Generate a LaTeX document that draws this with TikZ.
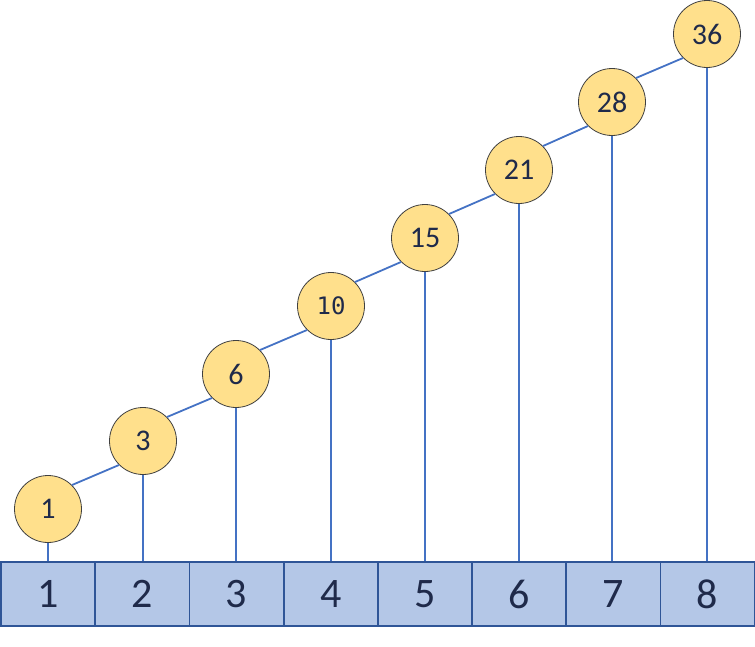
\documentclass[tikz,border=0pt]{standalone}
\usepackage{fontspec}
\setmainfont{Carlito}
\newfontfamily\monof{DejaVu Sans Mono}
\definecolor{cfill}{HTML}{FFE08C}
\definecolor{cdraw}{HTML}{404040}
\definecolor{bfill}{HTML}{B4C7E7}
\definecolor{bdraw}{HTML}{2F5597}
\definecolor{lnk}{HTML}{4472C4}
\definecolor{txt}{HTML}{1F2A4A}
\begin{document}
\begin{tikzpicture}[x=1pt,y=-1pt,
  tri/.style={circle,draw=cdraw,fill=cfill,line width=0.8pt,minimum size=67pt,inner sep=0pt,text=txt,font=\fontsize{30}{30}\selectfont},
  trim/.style={tri,font=\monof\fontsize{24}{24}\selectfont},
  cell/.style={rectangle,draw=bdraw,fill=bfill,line width=1.8pt,minimum width=94.2pt,minimum height=64pt,inner sep=0pt,text=txt,font=\fontsize{42}{42}\selectfont},
  lnkline/.style={draw=lnk,line width=1.8pt}]
\useasboundingbox (0,0) rectangle (755,646);
% cells
\foreach \i in {1,...,8} {
  \node[cell] (b\i) at ({1+94.2*(\i-0.5)},594) {\i};
}
% circles
\node[tri]  (c1) at (48,509) {1};
\node[tri]  (c2) at (143,441) {3};
\node[tri]  (c3) at (236,374) {6};
\node[trim] (c4) at (331,306) {10};
\node[tri]  (c5) at (425,238) {15};
\node[tri]  (c6) at (519,170) {21};
\node[tri]  (c7) at (612,102) {28};
\node[tri]  (c8) at (707,34) {36};
% connectors
\foreach \a/\b in {c1/c2,c2/c3,c3/c4,c4/c5,c5/c6,c6/c7,c7/c8} {
  \draw[lnkline] (\a.north east) -- (\b.south west);
}
\foreach \i in {1,...,8} {
  \draw[lnkline] (c\i.south) -- (c\i.south |- b\i.north);
}
\end{tikzpicture}
\end{document}
